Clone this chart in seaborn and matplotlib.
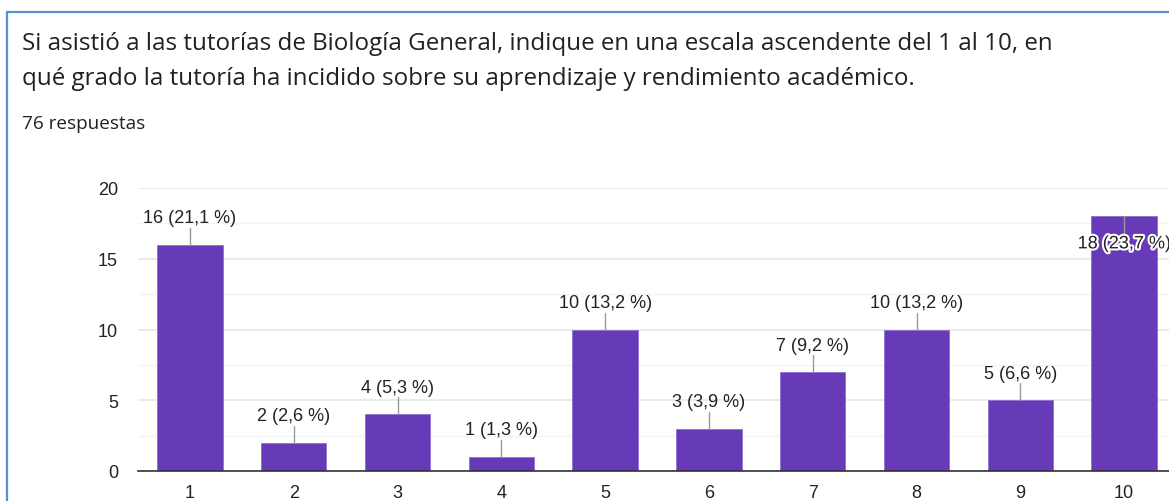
import matplotlib
matplotlib.use("Agg")
import matplotlib.pyplot as plt
import matplotlib.patheffects as pe
import seaborn as sns
import pandas as pd
from matplotlib.patches import Rectangle
from matplotlib.ticker import MultipleLocator

# ---- data ----
categories = ["1", "2", "3", "4", "5", "6", "7", "8", "9", "10"]
counts = [16, 2, 4, 1, 10, 3, 7, 10, 5, 18]
percents = ["21,1", "2,6", "5,3", "1,3", "13,2", "3,9", "9,2", "13,2", "6,6", "23,7"]
title_lines = ["Si asistió a las tutorías de Biología General, indique en una escala ascendente del 1 al 10, en",
               "qué grado la tutoría ha incidido sobre su aprendizaje y rendimiento académico."]
subtitle = "76 respuestas"
y_ticks = [0, 5, 10, 15, 20]

df = pd.DataFrame({"cat": categories, "n": counts})

sns.set_theme(style="white")
plt.rcParams["font.family"] = ["Liberation Sans", "DejaVu Sans"]

fig = plt.figure(figsize=(11.69, 5.02), dpi=100)
fig.patch.set_facecolor("white")

# card border
fig.patches.append(Rectangle((6.5 / 1169, -0.1), 1.2, 1 - 12.5 / 502 + 0.1,
                             transform=fig.transFigure, fill=False,
                             edgecolor="#5b8fd3", linewidth=1.6, zorder=0))

fig.text(22 / 1169, 1 - 44 / 502, title_lines[0], fontsize=17.4, family="Open Sans",
         color="#202124", va="center", ha="left")
fig.text(22 / 1169, 1 - 79 / 502, title_lines[1], fontsize=17.4, family="Open Sans",
         color="#202124", va="center", ha="left")
fig.text(22 / 1169, 1 - 124 / 502, subtitle, fontsize=13.6, family="Open Sans",
         color="#202124", va="center", ha="left")

ax = fig.add_axes([138 / 1169, 30 / 502, 1038 / 1169, 283 / 502])
sns.barplot(data=df, x="cat", y="n", ax=ax, color="#673ab7", saturation=1,
            width=0.63, edgecolor="#8f6fd0", linewidth=0.6, zorder=3)

ax.set_xlim(-0.5, len(categories) - 0.5)
ax.set_ylim(0, 20)
ax.set_yticks(y_ticks)
ax.yaxis.set_minor_locator(MultipleLocator(2.5))
ax.grid(axis="y", which="major", color="#e8e8e8", linewidth=1.2, zorder=0)
ax.grid(axis="y", which="minor", color="#f3f3f3", linewidth=1.0, zorder=0)
ax.set_axisbelow(True)
for s in ["top", "right", "left"]:
    ax.spines[s].set_visible(False)
ax.spines["bottom"].set_color("#333333")
ax.spines["bottom"].set_linewidth(1.2)
ax.spines["bottom"].set_zorder(5)
ax.tick_params(axis="both", which="both", length=0, labelsize=13, colors="#222222")
ax.tick_params(axis="y", pad=14.4)
ax.tick_params(axis="x", pad=9.5)
ax.set_xlabel("")
ax.set_ylabel("")

for i, (n, p) in enumerate(zip(counts, percents)):
    label = f"{n} ({p} %)"
    if n >= 17:
        ax.plot([i, i], [n, n - 1.3], color="#999999", lw=1, zorder=4)
        ax.text(i, n - 1.95, label, ha="center", va="center", fontsize=13,
                color="#222222", zorder=6,
                path_effects=[pe.withStroke(linewidth=3, foreground="white")])
    else:
        ax.plot([i, i], [n, n + 1.2], color="#999999", lw=1, zorder=4)
        ax.text(i, n + 1.9, label, ha="center", va="center", fontsize=13,
                color="#222222", zorder=6)

fig.savefig("out.png", dpi=100, facecolor="white")
